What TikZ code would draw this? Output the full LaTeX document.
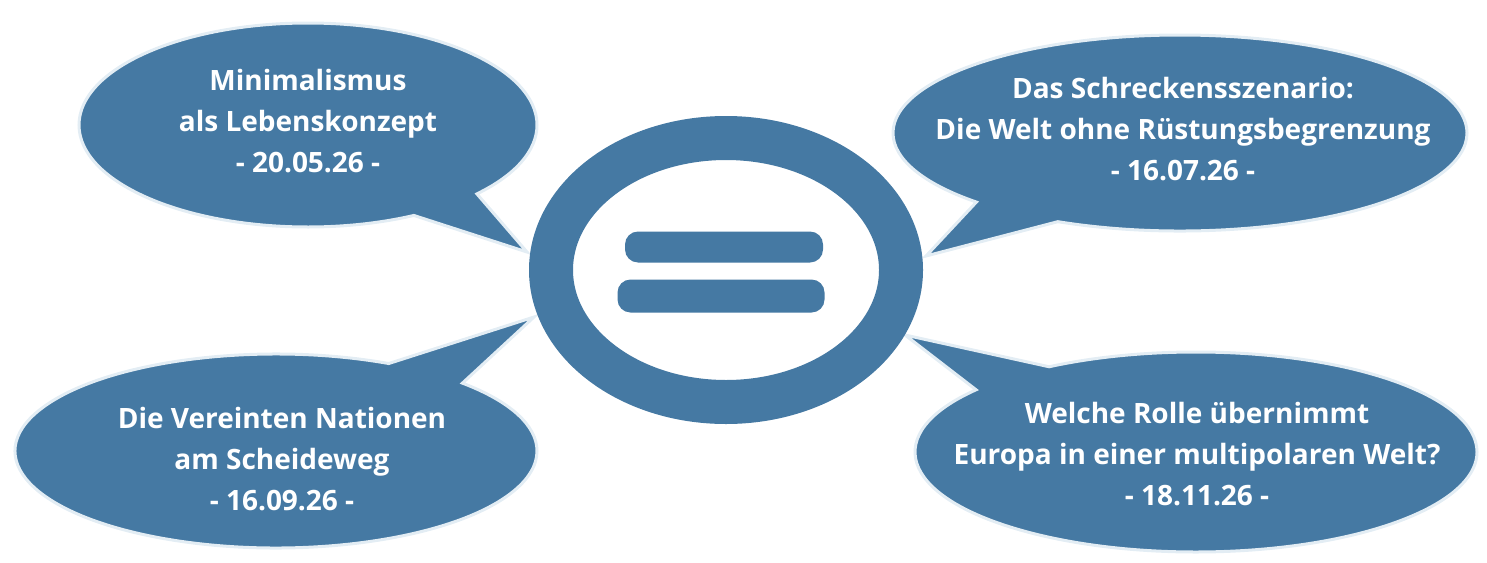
\documentclass[tikz,border=0pt]{standalone}
\usepackage{fontspec}
\setmainfont{Open Sans}
\usetikzlibrary{shapes.geometric,shapes.callouts}
\definecolor{bblue}{HTML}{4579A3}
\definecolor{halo}{HTML}{E3EDF4}
\tikzset{
  bubble/.style={ellipse callout, fill=bblue, draw=halo, line width=3pt,
    inner sep=0pt, outer sep=0pt, callout pointer arc=20},
  label/.style={text=white, align=center, inner sep=0pt,
    font=\bfseries\fontsize{28}{41}\selectfont},
  bar/.style={rectangle, fill=bblue, rounded corners=13pt, inner sep=0pt}
}
\begin{document}
\begin{tikzpicture}[x=1pt,y=-1pt]
\useasboundingbox (0,0) rectangle (1487,562);
\coordinate (p1) at (527,252);
\coordinate (p2) at (926,256);
\coordinate (p3) at (534,317);
\coordinate (p4) at (905,335);
\node[bubble, minimum width=458pt, minimum height=204pt, callout absolute pointer={(p1)}] (b1) at (308,125) {};
\node[bubble, minimum width=574pt, minimum height=196pt, callout absolute pointer={(p2)}] (b2) at (1180,133) {};
\node[bubble, minimum width=522pt, minimum height=194pt, callout absolute pointer={(p3)}] (b3) at (276,451) {};
\node[bubble, minimum width=562pt, minimum height=200pt, callout absolute pointer={(p4)}] (b4) at (1196,452) {};
\node[label] (t1) at (308,121) {Minimalismus\\als Lebenskonzept\\- 20.05.26 -};
\node[label] (t2) at (1183,129) {Das Schreckensszenario:\\Die Welt ohne Rüstungsbegrenzung\\- 16.07.26 -};
\node[label] (t3) at (282,459) {Die Vereinten Nationen\\am Scheideweg\\- 16.09.26 -};
\node[label] (t4) at (1197,454) {Welche Rolle übernimmt\\Europa in einer multipolaren Welt?\\- 18.11.26 -};
\node[ellipse, draw=bblue, fill=white, line width=44pt, inner sep=0pt, outer sep=0pt,
  minimum width=350pt, minimum height=264pt] (ring) at (726,270) {};
\node[bar, minimum width=198pt, minimum height=31pt] (eq1) at (724,247) {};
\node[bar, minimum width=207pt, minimum height=33pt] (eq2) at (721,296) {};
\end{tikzpicture}
\end{document}
